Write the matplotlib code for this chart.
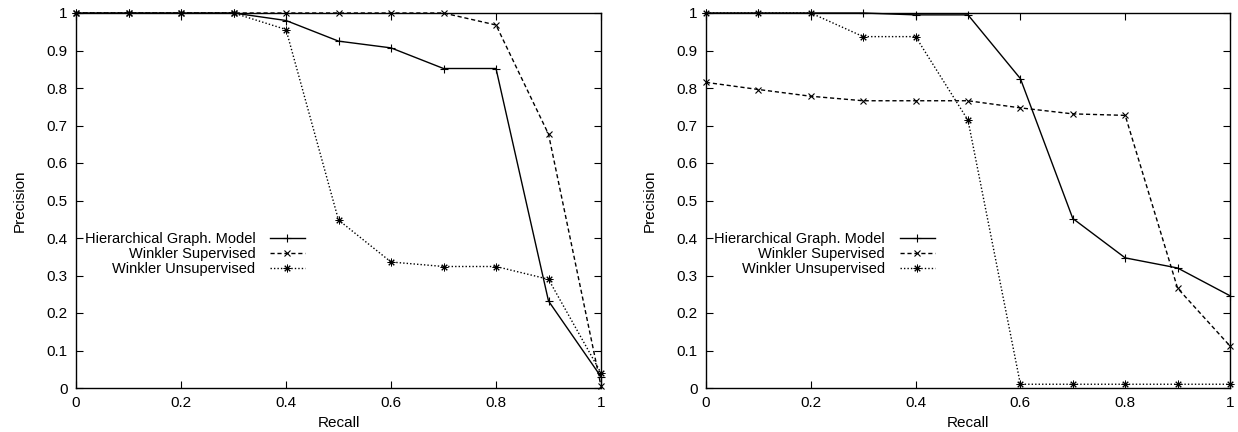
import numpy as np
import matplotlib
matplotlib.use('Agg')
import matplotlib.pyplot as plt

plt.rcParams['font.family'] = ['Liberation Sans', 'DejaVu Sans']
plt.rcParams['font.size'] = 11

# recall levels shared by both plots
recall = [0.0, 0.1, 0.2, 0.3, 0.4, 0.5, 0.6, 0.7, 0.8, 0.9, 1.0]

# left plot
hgm_left = [1.0, 1.0, 1.0, 1.0, 0.98, 0.925, 0.907, 0.852, 0.852, 0.232, 0.03]
sup_left = [1.0, 1.0, 1.0, 1.0, 1.0, 1.0, 1.0, 1.0, 0.968, 0.677, 0.005]
unsup_left = [1.0, 1.0, 1.0, 1.0, 0.956, 0.448, 0.336, 0.324, 0.324, 0.29, 0.04]

# right plot
hgm_right = [1.0, 1.0, 1.0, 1.0, 0.995, 0.995, 0.825, 0.452, 0.347, 0.32, 0.246]
sup_right = [0.815, 0.796, 0.778, 0.766, 0.766, 0.766, 0.747, 0.731, 0.727, 0.266, 0.112]
unsup_right = [1.0, 1.0, 1.0, 0.937, 0.937, 0.714, 0.01, 0.01, 0.01, 0.01, 0.01]

labels = ['Hierarchical Graph. Model', 'Winkler Supervised', 'Winkler Unsupervised']
xticks = [0, 0.2, 0.4, 0.6, 0.8, 1]
yticks = [0, 0.1, 0.2, 0.3, 0.4, 0.5, 0.6, 0.7, 0.8, 0.9, 1]
ytick_labels = ['0', '0.1', '0.2', '0.3', '0.4', '0.5', '0.6', '0.7', '0.8', '0.9', '1']
xtick_labels = ['0', '0.2', '0.4', '0.6', '0.8', '1']

W, H = 1238, 432
fig = plt.figure(figsize=(W / 100, H / 100), dpi=100)


def draw(ax, hgm, sup, unsup):
    ax.plot(recall, hgm, color='black', lw=1.0, ls='-', marker='+',
            ms=6, mew=0.8, clip_on=False, label=labels[0])
    ax.plot(recall, sup, color='black', lw=1.0, ls=(0, (3, 2)), marker='x',
            ms=5, mew=0.8, clip_on=False, label=labels[1])
    ax.plot(recall, unsup, color='black', lw=1.0, ls=(0, (1, 1.5)), marker=(8, 2, 0),
            ms=5.5, mew=0.7, clip_on=False, label=labels[2])
    ax.set_xlim(0, 1)
    ax.set_ylim(0, 1)
    ax.set_xticks(xticks)
    ax.set_xticklabels(xtick_labels)
    ax.set_yticks(yticks)
    ax.set_yticklabels(ytick_labels)
    ax.tick_params(direction='in', top=True, right=True, length=5, width=0.8,
                   pad=6, labelsize=11)
    for s in ax.spines.values():
        s.set_linewidth(1.0)
    ax.set_xlabel('Recall', labelpad=4, fontsize=11)
    ax.set_ylabel('Precision', labelpad=14, fontsize=11)
    ax.legend(loc='center right', bbox_to_anchor=(0.45, 0.357), frameon=False,
              markerfirst=False, handlelength=2.4, labelspacing=0.08,
              borderpad=0, handletextpad=1.0, fontsize=10.5)


ax1 = fig.add_axes([76 / W, 44 / H, 525 / W, 375 / H])
draw(ax1, hgm_left, sup_left, unsup_left)
ax2 = fig.add_axes([706 / W, 44 / H, 524 / W, 375 / H])
draw(ax2, hgm_right, sup_right, unsup_right)

fig.savefig('out.png', dpi=100)
